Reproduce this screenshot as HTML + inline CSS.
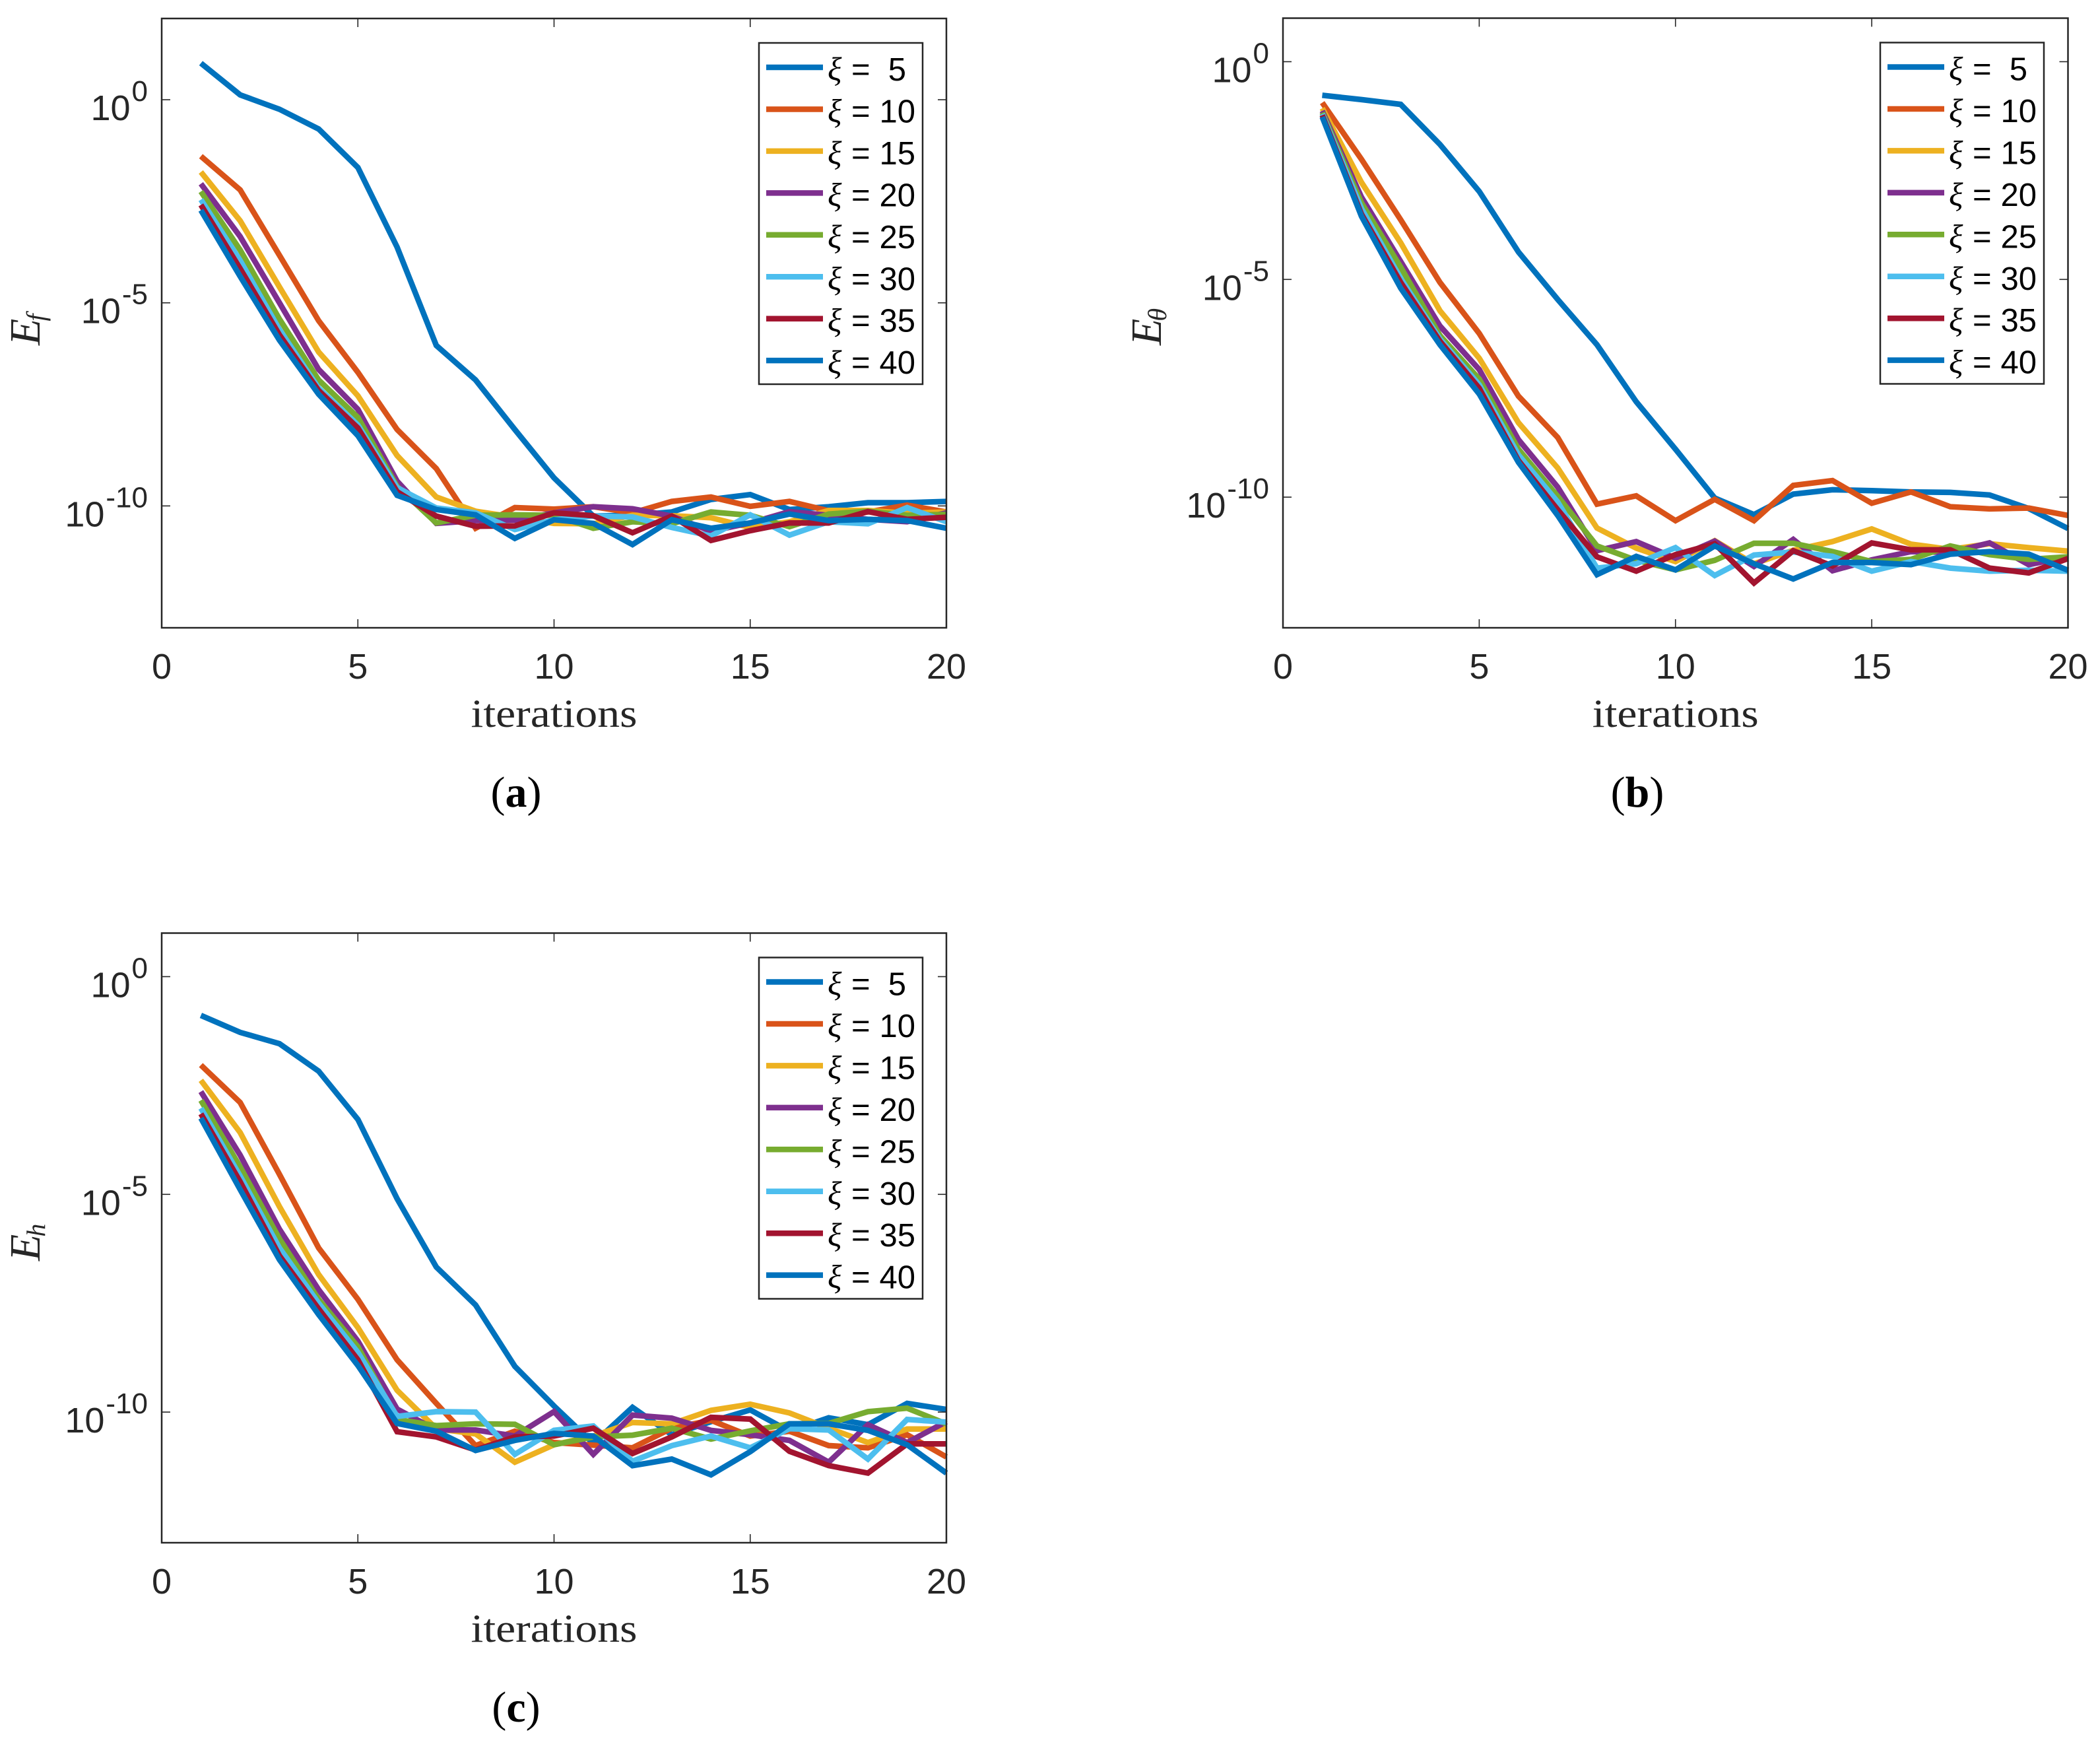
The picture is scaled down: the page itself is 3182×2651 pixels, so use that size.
<!DOCTYPE html>
<html lang="en">
<head>
<meta charset="utf-8">
<title>Convergence of errors over iterations</title>
<style>
html,body{margin:0;padding:0;background:#fff;}
svg{display:block;}
</style>
</head>
<body>
<svg id="figure" xmlns="http://www.w3.org/2000/svg" width="3182" height="2651" viewBox="0 0 3182 2651"></svg>
<script>
// All series hold log10 of the plotted error, for iterations 1..20.
const iterations = [1,2,3,4,5,6,7,8,9,10,11,12,13,14,15,16,17,18,19,20];
const xiValues = [5,10,15,20,25,30,35,40];
const seriesColors = ['#0072BD','#D95319','#EDB120','#7E2F8E','#77AC30','#4DBEEE','#A2142F','#0072BD'];
const xTickValues = [0,5,10,15,20];
const yTickExponents = [0,-5,-10];

const logEf5  = [0.9,0.12,-0.235,-0.72,-1.67,-3.63,-6.05,-6.9,-8.12,-9.31,-10.25,-10.23,-10.15,-9.84,-9.72,-10.09,-10.02,-9.92,-9.92,-9.89];
const logEf10 = [-1.39,-2.22,-3.83,-5.44,-6.71,-8.12,-9.08,-10.55,-10.04,-10.08,-10.02,-10.17,-9.89,-9.78,-10.01,-9.89,-10.12,-10.15,-9.98,-10.15];
const logEf15 = [-1.78,-2.98,-4.61,-6.21,-7.29,-8.76,-9.78,-10.13,-10.28,-10.43,-10.44,-10.23,-10.24,-10.29,-10.53,-10.39,-10.11,-10.11,-10.18,-10.15];
const logEf20 = [-2.07,-3.37,-5.0,-6.64,-7.62,-9.39,-10.43,-10.36,-10.35,-10.17,-10.02,-10.07,-10.25,-10.62,-10.42,-10.14,-10.23,-10.33,-10.39,-10.17];
const logEf25 = [-2.26,-3.7,-5.4,-6.9,-7.82,-9.52,-10.42,-10.23,-10.22,-10.23,-10.55,-10.39,-10.44,-10.15,-10.23,-10.51,-10.2,-10.13,-10.23,-10.21];
const logEf30 = [-2.46,-3.96,-5.66,-7.1,-8.01,-9.55,-10.05,-10.17,-10.58,-10.34,-10.25,-10.27,-10.53,-10.74,-10.22,-10.72,-10.39,-10.44,-10.04,-10.39];
const logEf35 = [-2.59,-4.16,-5.79,-7.16,-8.08,-9.65,-10.25,-10.5,-10.49,-10.17,-10.24,-10.66,-10.25,-10.85,-10.61,-10.42,-10.42,-10.14,-10.33,-10.28];
const logEf40 = [-2.72,-4.35,-5.92,-7.25,-8.27,-9.74,-10.09,-10.22,-10.8,-10.34,-10.43,-10.95,-10.34,-10.55,-10.42,-10.2,-10.36,-10.33,-10.36,-10.55];

const logEt5  = [-0.77,-0.87,-0.98,-1.9,-2.98,-4.37,-5.46,-6.5,-7.81,-8.9,-10.02,-10.4,-9.93,-9.83,-9.85,-9.88,-9.89,-9.95,-10.26,-10.72];
const logEt10 = [-0.94,-2.24,-3.63,-5.07,-6.24,-7.68,-8.63,-10.16,-9.97,-10.54,-10.05,-10.54,-9.73,-9.62,-10.14,-9.88,-10.22,-10.27,-10.25,-10.42];
const logEt15 = [-1.07,-2.77,-4.16,-5.72,-6.81,-8.29,-9.33,-10.71,-11.17,-11.48,-11.0,-11.53,-11.22,-11.02,-10.73,-11.08,-11.2,-11.07,-11.16,-11.24];
const logEt20 = [-1.13,-3.11,-4.59,-6.07,-7.07,-8.68,-9.77,-11.23,-11.02,-11.4,-11.01,-11.59,-10.97,-11.69,-11.44,-11.25,-11.27,-11.05,-11.55,-11.37];
const logEt25 = [-1.17,-3.24,-4.72,-6.29,-7.29,-8.9,-9.98,-11.12,-11.45,-11.67,-11.45,-11.06,-11.06,-11.25,-11.48,-11.43,-11.12,-11.32,-11.43,-11.37];
const logEt30 = [-1.2,-3.37,-4.98,-6.37,-7.42,-9.03,-10.11,-11.63,-11.53,-11.16,-11.8,-11.33,-11.26,-11.36,-11.7,-11.48,-11.63,-11.7,-11.68,-11.7];
const logEt35 = [-1.23,-3.5,-5.07,-6.42,-7.5,-9.16,-10.29,-11.37,-11.7,-11.32,-11.07,-11.97,-11.23,-11.58,-11.05,-11.21,-11.21,-11.63,-11.74,-11.41];
const logEt40 = [-1.27,-3.55,-5.2,-6.5,-7.63,-9.2,-10.42,-11.78,-11.36,-11.67,-11.12,-11.53,-11.88,-11.5,-11.5,-11.55,-11.31,-11.25,-11.31,-11.68];

const logEh5  = [-0.89,-1.28,-1.54,-2.17,-3.28,-5.1,-6.67,-7.54,-8.95,-9.86,-10.72,-9.89,-10.52,-10.22,-9.95,-10.44,-10.13,-10.29,-9.8,-9.94];
const logEh10 = [-2.03,-2.89,-4.54,-6.23,-7.41,-8.8,-9.8,-10.77,-10.44,-10.7,-10.76,-10.82,-10.37,-10.19,-10.55,-10.44,-10.77,-10.82,-10.52,-11.03];
const logEh15 = [-2.38,-3.58,-5.28,-6.84,-8.06,-9.5,-10.38,-10.5,-11.15,-10.75,-10.55,-10.24,-10.27,-9.96,-9.82,-10.02,-10.37,-10.7,-10.39,-10.39];
const logEh20 = [-2.64,-4.1,-5.8,-7.19,-8.37,-9.93,-10.41,-10.41,-10.55,-9.99,-10.97,-10.07,-10.14,-10.42,-10.52,-10.65,-11.15,-10.29,-10.7,-10.22];
const logEh25 = [-2.84,-4.37,-6.02,-7.41,-8.5,-10.17,-10.31,-10.27,-10.28,-10.75,-10.57,-10.53,-10.37,-10.62,-10.43,-10.27,-10.26,-9.99,-9.91,-10.27];
const logEh30 = [-3.02,-4.58,-6.23,-7.5,-8.63,-10.1,-9.99,-10.0,-10.97,-10.42,-10.32,-11.13,-10.77,-10.55,-10.82,-10.38,-10.41,-11.08,-10.17,-10.23];
const logEh35 = [-3.15,-4.71,-6.41,-7.63,-8.8,-10.45,-10.57,-10.87,-10.57,-10.55,-10.37,-10.95,-10.57,-10.12,-10.16,-10.9,-11.23,-11.4,-10.73,-10.73];
const logEh40 = [-3.25,-4.89,-6.5,-7.76,-8.93,-10.26,-10.44,-10.88,-10.65,-10.49,-10.55,-11.23,-11.08,-11.44,-10.91,-10.27,-10.27,-10.42,-10.75,-11.4];

const efSeries = [logEf5,logEf10,logEf15,logEf20,logEf25,logEf30,logEf35,logEf40];
const etSeries = [logEt5,logEt10,logEt15,logEt20,logEt25,logEt30,logEt35,logEt40];
const ehSeries = [logEh5,logEh10,logEh15,logEh20,logEh25,logEh30,logEh35,logEh40];

const NS = 'http://www.w3.org/2000/svg';
const AXIS = '#262626';
const SANS = '"Liberation Sans", sans-serif';
const SERIF = '"Liberation Serif", serif';
const root = document.getElementById('figure');

function mk(parent, tag, props, text) {
  const el = document.createElementNS(NS, tag);
  for (const k in props) el.setAttribute(k, props[k]);
  if (text !== undefined) el.textContent = text;
  parent.appendChild(el);
  return el;
}

function drawPanel(p) {
  const g = mk(root, 'g', {});
  
  

  const xScale = v => p.left + (v / 20) * (p.right - p.left);
  const yScale = v => p.top + ((p.yMax - v) / (p.yMax - p.yMin)) * (p.bottom - p.top);

  // series
  const plot = mk(g, 'g', {fill: 'none', 'stroke-width': 8.5, 'stroke-linejoin': 'miter', 'stroke-miterlimit': 10});
  
  
  p.series.forEach((vals, i) => {
    const pts = vals.map((v, j) => xScale(iterations[j]).toFixed(1) + ',' + yScale(v).toFixed(1)).join(' ');
    const line = mk(plot, 'polyline', {points: pts, stroke: seriesColors[i]});
    
    
  });

  // axes box
  const box = mk(g, 'rect', {x: p.left, y: p.top, width: p.right - p.left, height: p.bottom - p.top, fill: 'none', stroke: AXIS, 'stroke-width': 2.5});
  
  

  // x ticks
  xTickValues.forEach(v => {
    const x = xScale(v);
    if (v > 0 && v < 20) {
      const tb = mk(g, 'line', {x1: x, x2: x, y1: p.bottom, y2: p.bottom - 13, stroke: AXIS, 'stroke-width': 1.6});
      
      
      const tt = mk(g, 'line', {x1: x, x2: x, y1: p.top, y2: p.top + 13, stroke: AXIS, 'stroke-width': 1.6});
      
      
    }
    const lab = mk(g, 'text', {x: x, y: p.bottom + 77, 'font-family': SANS, 'font-size': 54, fill: AXIS, 'text-anchor': 'middle'}, String(v));
    
    
  });

  // y ticks
  yTickExponents.forEach(e => {
    const y = yScale(e);
    const tl = mk(g, 'line', {x1: p.left, x2: p.left + 13, y1: y, y2: y, stroke: AXIS, 'stroke-width': 1.6});
    
    
    const tr = mk(g, 'line', {x1: p.right, x2: p.right - 13, y1: y, y2: y, stroke: AXIS, 'stroke-width': 1.6});
    
    
    const lab = mk(g, 'text', {x: p.left - 21, y: y + 31, 'font-family': SANS, 'font-size': 54, fill: AXIS, 'text-anchor': 'end'});
    
    
    mk(lab, 'tspan', {}, '10');
    mk(lab, 'tspan', {dx: 2, dy: -29, 'font-size': 44}, String(e));
  });

  // x axis title
  const xt = mk(g, 'text', {x: (p.left + p.right) / 2, y: p.bottom + 150, 'font-family': SERIF, 'font-size': 60, fill: AXIS, 'text-anchor': 'middle', textLength: 252, lengthAdjust: 'spacingAndGlyphs'}, 'iterations');
  
  

  // y axis title
  const yt = mk(g, 'text', {transform: 'translate(' + (p.left - 185) + ' ' + p.yTitleBottom + ') rotate(-90)', 'font-family': SERIF, 'font-size': 66, 'font-style': 'italic', fill: AXIS});
  
  
  mk(yt, 'tspan', {}, 'E');
  mk(yt, 'tspan', {dx: -4, dy: 8, 'font-size': 40}, p.sub);

  // caption
  const cap = mk(g, 'text', {x: p.left + 537, y: p.bottom + 271, 'font-family': SERIF, 'font-size': 66, fill: '#000', 'text-anchor': 'middle'});
  
  
  mk(cap, 'tspan', {}, '(');
  mk(cap, 'tspan', {'font-weight': 'bold'}, p.id);
  mk(cap, 'tspan', {}, ')');

  // legend
  const lx = p.left + 905, ly = p.top + 37;
  const lg = mk(g, 'g', {});
  
  
  const lb = mk(lg, 'rect', {x: lx, y: ly, width: 248, height: 517, fill: '#fff', stroke: AXIS, 'stroke-width': 2.5});
  
  
  xiValues.forEach((xi, i) => {
    const cy = ly + 37 + i * 63.45;
    const entry = mk(lg, 'g', {});
    
    
    mk(entry, 'line', {x1: lx + 11, x2: lx + 97, y1: cy, y2: cy, stroke: seriesColors[i], 'stroke-width': 8.5});
    mk(entry, 'text', {x: lx + 104, y: cy + 19, 'font-family': SERIF, 'font-size': 50, 'font-style': 'italic', fill: '#000'}, '\u03BE');
    mk(entry, 'text', {x: lx + 140, y: cy + 20, 'font-family': SANS, 'font-size': 49, fill: '#000'}, '=');
    mk(entry, 'text', {x: lx + (xi < 10 ? 223 : 237), y: cy + 20, 'font-family': SANS, 'font-size': 49, fill: '#000', 'text-anchor': 'end'}, String(xi));
  });
}

drawPanel({id: 'a', left: 245, right: 1434, top: 28, bottom: 951, yMax: 2, yMin: -13, series: efSeries, sub: 'f', yTitleBottom: 523});
drawPanel({id: 'b', left: 1944, right: 3133.5, top: 27.5, bottom: 951, yMax: 1, yMin: -13, series: etSeries, sub: '\u03B8', yTitleBottom: 523});
drawPanel({id: 'c', left: 245, right: 1434, top: 1413.5, bottom: 2337, yMax: 1, yMin: -13, series: ehSeries, sub: 'h', yTitleBottom: 1910});
</script>
</body>
</html>
